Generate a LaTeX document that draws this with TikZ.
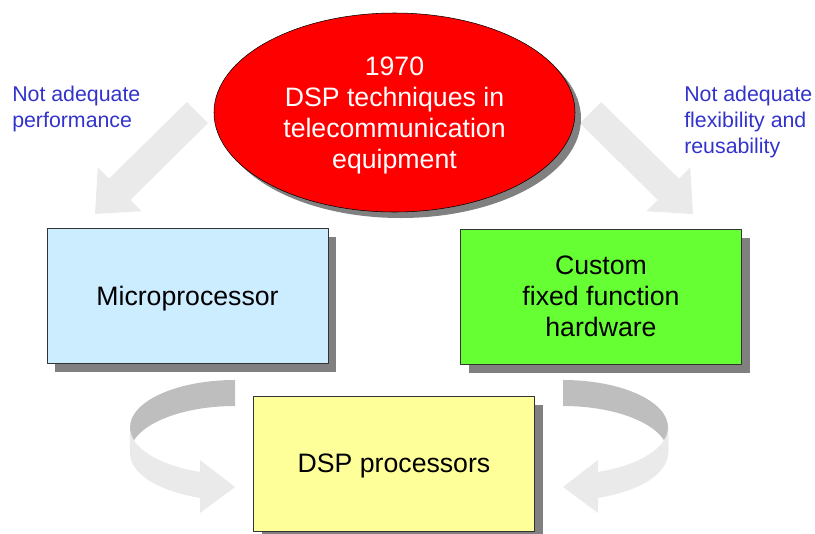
\documentclass[tikz,border=0pt]{standalone}
\usepackage{fontspec}
\setmainfont{Liberation Sans}
\usetikzlibrary{shapes.geometric,shadows}
\definecolor{boxblue}{RGB}{204,236,255}
\definecolor{boxgreen}{RGB}{102,255,51}
\definecolor{boxyellow}{RGB}{255,255,153}
\definecolor{notecol}{RGB}{51,51,204}
\definecolor{arrowlight}{RGB}{234,234,234}
\definecolor{arrowdark}{RGB}{190,190,190}
\definecolor{shadowgray}{RGB}{128,128,128}
\tikzset{
	procbox/.style={draw=black!80, thin, minimum width=210.75pt, minimum height=101.25pt, inner sep=0pt,
		align=center, text depth=0pt, font=\fontsize{20}{23.25}\selectfont,
		drop shadow={shadow xshift=6pt, shadow yshift=-6.5pt, fill=shadowgray, opacity=1}},
	note/.style={text=notecol, align=left, anchor=west, inner sep=0pt, font=\fontsize{16}{19.5}\selectfont}
}
\begin{document}
\begin{tikzpicture}[x=0.75pt, y=-0.75pt, line join=round, line cap=butt]
			\useasboundingbox (0,0) rectangle (815,533);
			% straight block arrows
			\fill[arrowlight] (208.1,123.1)--(130.4,199.9)--(141.7,211.2)--(95,214)--(97.8,167.3)--(109.1,178.6)--(186.9,101.9)--cycle;
			\fill[arrowlight] (579.9,123.1)--(657.6,199.9)--(646.3,211.2)--(693,214)--(690.2,167.3)--(678.9,178.6)--(601.1,101.9)--cycle;
			% 1970
			\node[ellipse, draw=black, thin, fill=red, text=white, minimum width=270.75pt, minimum height=149.25pt,
				inner sep=0pt, align=center, text depth=0pt, font=\fontsize{20}{23.25}\selectfont,
				drop shadow={shadow xshift=4.5pt, shadow yshift=-4.5pt, fill=shadowgray, opacity=1}]
				(dsp70) at (394.5,112.5) {1970\\DSP techniques in\\telecommunication\\equipment};
			% processors
			\node[procbox, fill=boxblue] (micro) at (187.5,295.5) {Microprocessor};
			\node[procbox, fill=boxgreen] (custom) at (601,296.5) {Custom\\fixed function\\hardware};
			\node[procbox, fill=boxyellow] (dspproc) at (394,463.5) {DSP processors};
			% curved arrows
			\def\rx{105} \def\ry{47.3}
			\fill[arrowdark] (235,380) arc[start angle=-90, end angle=-180, x radius=\rx, y radius=\ry]
				-- (130,453.3) arc[start angle=-180, end angle=-90, x radius=\rx, y radius=\ry] -- cycle;
			\fill[arrowlight] (130,427.3) arc[start angle=180, end angle=109.47, x radius=\rx, y radius=\ry]
				-- (200,460) -- (235,487) -- (200,513) -- (200,497.9)
				arc[start angle=109.47, end angle=180, x radius=\rx, y radius=\ry] -- cycle;
			\fill[arrowdark] (563,380) arc[start angle=-90, end angle=0, x radius=\rx, y radius=\ry]
				-- (668,453.3) arc[start angle=0, end angle=-90, x radius=\rx, y radius=\ry] -- cycle;
			\fill[arrowlight] (668,427.3) arc[start angle=0, end angle=70.53, x radius=\rx, y radius=\ry]
				-- (598,460) -- (563,487) -- (598,513) -- (598,497.9)
				arc[start angle=70.53, end angle=0, x radius=\rx, y radius=\ry] -- cycle;
			% notes
			\node[note] (perf) at (12,109) {Not adequate\\performance};
			\node[note] (flex) at (684,122) {Not adequate\\flexibility and\\reusability};
		\end{tikzpicture}
\end{document}
